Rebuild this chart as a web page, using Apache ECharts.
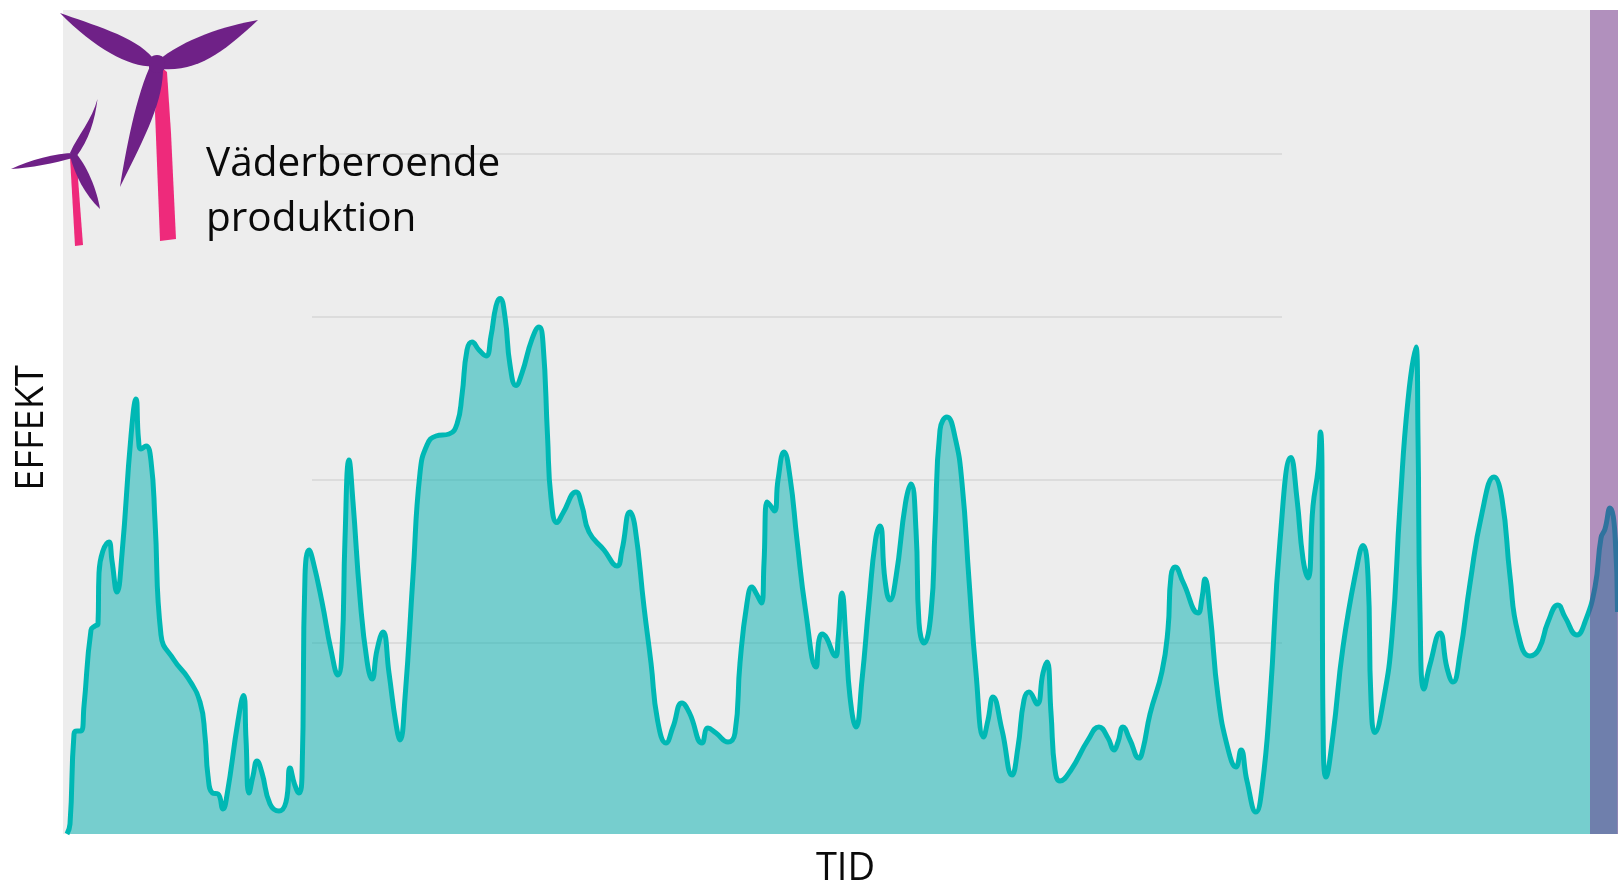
<!DOCTYPE html>
<html><head><meta charset="utf-8">
<style>html,body{margin:0;padding:0;background:#fff}#c{width:1618px;height:882px}</style>
<script src="https://cdn.jsdelivr.net/npm/echarts@6/dist/echarts.min.js"></script>
</head><body><div id="c"></div>
<script>
const xLabel = 'TID';
const yLabel = 'EFFEKT';
const caption = 'Väderberoende\nproduktion';
const gridLevels = [191, 354, 517, 680];
const gridSpan = [312, 1282];
const bandSpan = [1590, 1618];
// [tid, effekt]
const readings = [
[67,0],[70,10],[74,100],[77,103],[81,103],[84,128],[91,204],[95,208],[98,210],[99,261],[109,292],[112,273],[117,242],[122,280],[131,398],[136,435],[138.5,395],[141,385],[146,388],[151,373],[155,313],[161,199],[174,174],[188,156],[200,132],[205,98],[208,58],[212.5,41],[218,40],[223,25],[227,39],[238,113],[243.5,138.5],[246,95],[249,41],[253,58],[257,73],[262,61],[270,30],[279,23],[286,32],[290,66],[294.5,50],[299,41],[302,58],[305,258],[309,284],[313,273],[322,232],[331,184],[338,159],[342,184],[345,295],[349,374],[353,332],[360,236],[367,173],[372,155],[377,184],[383,202],[389,161],[396,110],[400,94],[405,136],[413,258],[420,361],[427,389],[436,398],[449,400],[457,410],[462,439],[467,484],[472,492],[479,484],[486,478],[491,498],[496,528],[500,535.5],[505,517],[510,469],[516,448.5],[522,461],[532,495],[539,507],[543,491],[547.5,398.5],[551,336],[557,311.5],[563,321],[576,342],[582,328],[589,302],
[604,284],[617,268],[622,284],[630,322],[635,307],[644,227],[651,171],[657.5,114],[666,91],[673,107],[682,131],[689.5,121],[702,91],[708,106],[716,101],[728,92],[735,101],[740,171],[747,231],[752,247],[756,241],[761.5,231],[764,271],[767,332],[770,329],[774.5,323],[778,354],[784,382],[790,357],[797,294],[805.5,224],[816,167],[819,194],[822,200],[835.5,178],[838,194],[842,241],[846,194],[850,137],[856,107],[862,154],[869,231],[875.5,294],[880,308],[885,254],[890,234],[896,257],[905.5,331],[911,350],[916,304],[919,211],[924,191],[931,221],[935,304],[940,404],[947,417],[955,397],[962,351],[969,254],[976,161],[983.6,97],[988,114],[993,137],[1002,104],[1012,59],[1018,87],[1024,134],[1029,142],[1037,130],[1043,161],[1047,172],[1051,121],[1055,64],[1060,53],[1071,64],[1088,94],[1099,107],[1108,96],[1114,84],[1118,92],[1123,107],[1130,94],[1139,76],[1143,85],[1150,120],[1162,162.5],[1168,205],[1171,258],[1175,267],[1183,252],[1198,221],[1202,236],[1205,255],[1210,222],[1218,138],[1228,85],[1236,67],[1241,84],[1247,53],[1256,22],[1262,46],[1270,134],[1280,293],[1291,376.5],[1297,335],[1303,275],[1308,256],[1313,328],[1318,364],[1320.5,402],[1322,364],[1322.5,184],[1323,114],[1326,57],[1333,99],[1343,187],[1357,268],[1363,288.5],[1368,258],[1371,134],[1375,101.5],[1383,131],[1392,198],[1400,328],[1408,434],[1416,487],[1418,398],[1420,222],[1424,145],[1430,169.5],[1440,201],[1447,166],[1453,152],[1460,180],[1470,250.5],[1482,321],[1494,357],[1502,335],[1510,258],[1518,201],[1530,178],[1539,185],[1548,212],[1558,229],[1565,217],[1577,199],[1585,212],[1595,247],[1601,296],[1605,305],[1610,326],[1615,300],[1617.5,222]
];
const purple = '#6f2187', pink = '#ee2a7b';
const turbineParts = [
 {fill: pink, d: 'M155,112 L160,241 L176,239 L171,133 L167,72 L160,66 Z'},
 {fill: purple, d: 'M60,13 C90,24 135,36 153,58 L160,66 C135,70 98,52 60,13 Z'},
 {fill: purple, d: 'M258,20 C225,26 185,38 156,62 L162,69 C200,72 228,48 258,20 Z'},
 {fill: purple, d: 'M120,187 C126,150 136,95 152,62 L163,66 C164,100 146,135 120,187 Z'},
 {fill: purple, d: 'M150,64 A8,6 0 1 1 164,64 A8,6 0 1 1 150,64 Z'},
 {fill: pink, d: 'M70,157 L75,246 L83,245 L77,165 Z'},
 {fill: purple, d: 'M97.5,99 C92,120 78,135 70,153 L76,157 C89,140 95,120 97.5,99 Z'},
 {fill: purple, d: 'M11,169 C30,160 55,153 75,153 L73,158 C55,163 30,168 11,169 Z'},
 {fill: purple, d: 'M100,209 C97,190 87,165 74,151 L70,156 C75,175 85,195 100,209 Z'}
];
const chart = echarts.init(document.getElementById('c'), null, {renderer: 'canvas'});
chart.setOption({
  animation: false,
  grid: {left: 63, right: 0, top: 10, bottom: 48, outerBoundsMode: 'none', show: true, backgroundColor: '#ededed', borderWidth: 0},
  xAxis: {type: 'value', min: 63, max: 1618, axisLine: {show: false}, axisTick: {show: false}, axisLabel: {show: false}, splitLine: {show: false},
    name: xLabel, nameLocation: 'middle', nameGap: 16, nameTextStyle: {fontFamily: 'Open Sans', fontSize: 38, color: '#0a0a0a', padding: [0, 0, 0, 10]}},
  yAxis: {type: 'value', min: 0, max: 824, axisLine: {show: false}, axisTick: {show: false}, axisLabel: {show: false}, splitLine: {show: false},
    name: yLabel, nameLocation: 'middle', nameGap: 12, nameTextStyle: {fontFamily: 'Open Sans', fontSize: 38, color: '#0a0a0a', padding: [0, 12, 0, 0]}},
  series: [
    {type: 'line', z: 1, data: [], silent: true,
     markLine: {silent: true, symbol: 'none', label: {show: false}, z: 1, animation: false,
       lineStyle: {color: '#dcdcdc', width: 2, type: 'solid'},
       data: gridLevels.map(v => [{coord: [gridSpan[0], v]}, {coord: [gridSpan[1], v]}])}},
    {type: 'line', z: 3, data: readings, smooth: 0.5, symbol: 'none', clip: true,
     lineStyle: {color: '#00b8b4', width: 5}, itemStyle: {color: '#00b8b4'},
     areaStyle: {color: 'rgb(0,176,176)', opacity: 0.5}},
    {type: 'line', z: 5, data: [], silent: true,
     markArea: {silent: true, z: 5, animation: false, itemStyle: {color: 'rgba(105,30,130,0.45)'},
       data: [[{coord: [bandSpan[0], 0]}, {coord: [bandSpan[1], 824]}]]}},
    {type: 'custom', coordinateSystem: 'none', z: 20, silent: true, clip: false, data: [0],
     renderItem: () => ({type: 'group', children: turbineParts.map(p => ({type: 'path', shape: {pathData: p.d}, style: {fill: p.fill}}))})}
  ],
  graphic: [
    {type: 'text', z: 21, left: 206, top: 137, style: {text: caption, fontFamily: 'Open Sans', fontSize: 40.5, lineHeight: 55, fill: '#0a0a0a'}}
  ]
});
</script></body></html>
